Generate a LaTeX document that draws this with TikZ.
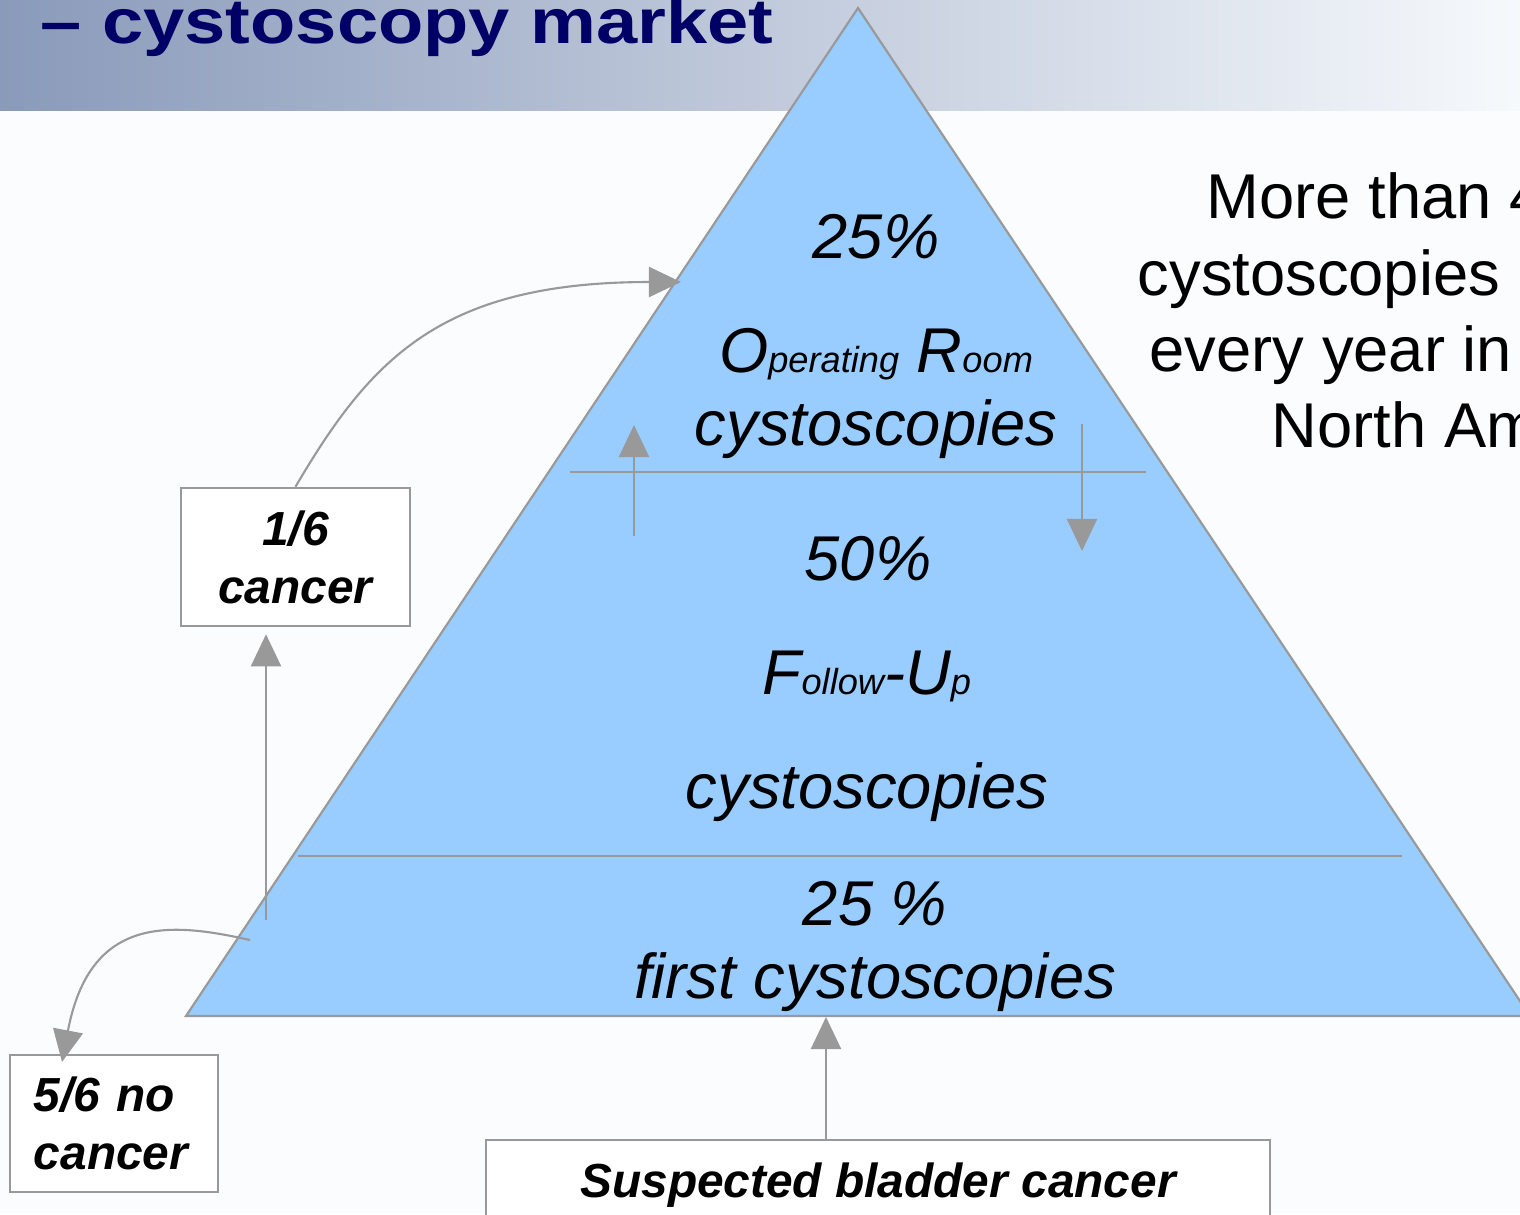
\documentclass[tikz,border=0pt]{standalone}
\usepackage{fontspec}
\setmainfont{Liberation Sans}
\newfontfamily\titlefont{Liberation Sans}[FakeStretch=1.17]
\usetikzlibrary{arrows.meta,positioning,calc}

\definecolor{bgcol}{RGB}{250,252,254}
\definecolor{hdrL}{RGB}{138,154,186}
\definecolor{hdrR}{RGB}{246,249,252}
\definecolor{navy}{RGB}{0,0,102}
\definecolor{pyrblue}{RGB}{153,204,255}
\definecolor{linegray}{RGB}{153,153,153}

\newcommand{\smalltxt}[1]{{\fontsize{10.3}{12}\selectfont #1}}

\begin{document}
\begin{tikzpicture}
[x=0.01cm,y=-0.01cm,
tri/.style={draw=linegray,fill=pyrblue,line width=0.6pt},
divider/.style={draw=linegray,line width=0.6pt},
cbox/.style={rectangle,draw=linegray,fill=white,line width=0.7pt,font=\fontsize{13.6}{16.5}\selectfont\bfseries\itshape},
lbl/.style={inner sep=0pt,anchor=base,font=\fontsize{18}{21}\selectfont\itshape},
note/.style={inner sep=0pt,anchor=base west,font=\fontsize{18}{21}\selectfont},
arr/.style={-{Triangle[length=0.32cm,width=0.30cm]},draw=linegray,line width=0.6pt}]
\useasboundingbox (0,0) rectangle (1520,1214);
\clip (0,0) rectangle (1520,1214);
\fill[bgcol] (0,0) rectangle (1520,1214);
\shade[left color=hdrL,right color=hdrR] (0,0) rectangle (1520,110);
\node[inner sep=0pt,anchor=base west,text=navy,font=\titlefont\fontsize{18}{21}\selectfont\bfseries] (title) at (40,43) {– cystoscopy market};

% pyramid
\coordinate (apex) at (858,8);
\coordinate (baseL) at (186,1016);
\coordinate (baseR) at (1530,1016);
\draw[tri] (apex) -- (baseL) -- (baseR) -- cycle;
\draw[divider] (570,472) -- (1146,472);
\draw[divider] (298,856) -- (1402,856);

\node[lbl] (ortop) at (876,258) {25\%};
\node[lbl] (orname) at (876,372) {O\smalltxt{perating} R\smalltxt{oom}};
\node[lbl] (orcyst) at (876,445) {cystoscopies};
\node[lbl] (futop) at (868,580) {50\%};
\node[lbl] (funame) at (867,694) {F\smalltxt{ollow}-U\smalltxt{p}};
\node[lbl] (fucyst) at (867,808) {cystoscopies};
\node[lbl] (fsttop) at (875,925) {25 \%};
\node[lbl] (fstcyst) at (875,998) {first cystoscopies};

% text on the right
\node[note] (note1) at (1206,218) {More than 4};
\node[note] (note2) at (1137,295) {cystoscopies};
\node[note] (note3) at (1149,371) {every year in};
\node[note] (note4) at (1271,447) {North Am};

% boxes
\node[cbox,minimum width=2.29cm,minimum height=1.38cm,align=center] (cancer) at (295.5,557) {1/6\\cancer};
\node[cbox,minimum width=2.08cm,minimum height=1.37cm,text width=1.6cm,align=left] (nocancer) at (114,1123.5) {5/6 no\\cancer};
\node[cbox,minimum width=7.84cm,minimum height=0.9cm,anchor=north] (suspect) at (878,1139) {Suspected bladder cancer};

% arrows
\coordinate (orup) at (634,536);
\coordinate (ordown) at (1082,424);
\coordinate (fstup) at (266,920);
\coordinate (ortip) at (681,282);
\coordinate (fstout) at (250,940);
\coordinate (fstin) at (826,1017);
\coordinate (nctip) at (62,1062);
\draw[arr] (orup) -- ++(0,-111);
\draw[arr] (ordown) -- ++(0,127);
\draw[arr,shorten >=0.07cm] (fstup) -- (fstup |- cancer.south);
\draw[arr] (suspect.north -| fstin) -- (fstin);
\draw[arr] (cancer.north) .. controls (370,360) and (440,282) .. (ortip);
\draw[arr] (fstout) .. controls (170,922) and (90,915) .. (nctip);
\end{tikzpicture}
\end{document}
